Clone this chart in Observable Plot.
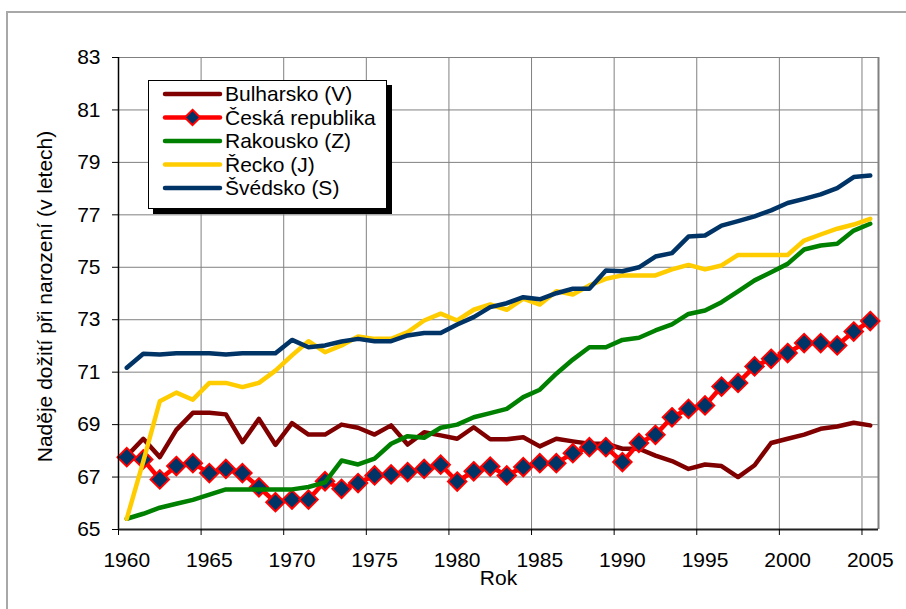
<!DOCTYPE html>
<html><head><meta charset="utf-8">
<script src="https://cdn.jsdelivr.net/npm/d3@7"></script>
<script src="https://cdn.jsdelivr.net/npm/@observablehq/plot@0.6"></script>
<style>
body{margin:0;background:#fff;font-family:"Liberation Sans",Arial,sans-serif;}
#wrap{position:relative;width:906px;height:609px;overflow:hidden;background:#fff;}
#frame{position:absolute;left:6px;top:11px;width:940px;height:640px;border:2px solid #a8a8a8;box-sizing:border-box;}
#chart{position:absolute;left:0;top:0;}
#legend{position:absolute;left:148px;top:80px;width:239px;height:129px;background:#fff;border:1px solid #000;box-shadow:5px 5px 0 #000;box-sizing:border-box;}
</style>
</head><body>
<div id="wrap"><div id="frame"></div><div id="chart"></div><div id="legend"></div></div>
<script>
const years = d3.range(1960, 2006);
const seriesNames = ["Bulharsko (V)", "Česká republika", "Rakousko (Z)", "Řecko (J)", "Švédsko (S)"];
const seriesColors = ["#800000", "#FF0000", "#008000", "#FFCC00", "#003366"];
const markerFill = "#003366";

const bulgaria = [67.8,68.46,67.76,68.8,69.45,69.45,69.39,68.33,69.22,68.23,
  69.06,68.62,68.62,69.0,68.88,68.62,68.97,68.24,68.71,68.59,
  68.46,68.9,68.44,68.44,68.52,68.17,68.46,68.36,68.27,68.27,
  68.08,68.08,67.82,67.61,67.31,67.48,67.42,67.0,67.45,68.3,
  68.46,68.62,68.84,68.93,69.07,68.97];
const czech = [67.76,67.67,66.91,67.42,67.53,67.15,67.31,67.15,66.61,66.04,
  66.14,66.14,66.84,66.55,66.77,67.06,67.1,67.19,67.31,67.47,
  66.83,67.22,67.4,67.06,67.38,67.53,67.53,67.91,68.14,68.14,
  67.57,68.3,68.61,69.28,69.6,69.73,70.45,70.59,71.22,71.51,
  71.73,72.11,72.11,72.02,72.55,72.95];
const austria = [65.41,65.6,65.83,65.98,66.13,66.33,66.53,66.53,66.53,66.53,
  66.53,66.62,66.8,67.63,67.48,67.7,68.27,68.56,68.5,68.88,
  69.0,69.28,69.44,69.6,70.05,70.33,70.94,71.48,71.95,71.95,
  72.23,72.31,72.59,72.82,73.22,73.35,73.67,74.08,74.5,74.81,
  75.13,75.68,75.83,75.9,76.4,76.66];
const greece = [65.41,67.6,69.89,70.22,69.95,70.59,70.59,70.43,70.59,71.06,
  71.64,72.18,71.76,72.02,72.36,72.27,72.27,72.53,72.97,73.23,
  72.97,73.38,73.58,73.38,73.8,73.58,74.09,73.96,74.31,74.56,
  74.69,74.69,74.69,74.92,75.09,74.92,75.07,75.47,75.47,75.47,
  75.47,76.02,76.25,76.47,76.63,76.85];
const sweden = [71.17,71.7,71.67,71.72,71.72,71.72,71.67,71.72,71.72,71.72,
  72.23,71.95,72.02,72.17,72.27,72.18,72.18,72.4,72.49,72.49,
  72.82,73.1,73.48,73.63,73.86,73.78,74.01,74.18,74.18,74.88,
  74.85,75.0,75.41,75.54,76.17,76.21,76.59,76.76,76.94,77.17,
  77.45,77.61,77.78,78.02,78.44,78.5];

const yTicks = [65,67,69,71,73,75,77,79,81,83];
const xTickLabels = [1960,1965,1970,1975,1980,1985,1990,1995,2000,2005];
const yTitle = "Naděje dožití při narození (v letech)";
const xTitle = "Rok";

const allSeries = [bulgaria, czech, austria, greece, sweden];
const toRows = (vals) => years.map((yr, i) => ({year: yr, value: vals[i]}));
const boundaries = xTickLabels.map(v => v - 0.5);

const lineMarks = allSeries.map((vals, k) =>
  Plot.line(toRows(vals), {x: "year", y: "value", stroke: seriesColors[k], strokeWidth: 4.5,
    strokeLinejoin: "round", strokeLinecap: "round"}));

const chart = Plot.plot({
  width: 906, height: 609,
  marginLeft: 118, marginRight: 28, marginTop: 57, marginBottom: 80,
  x: {domain: [1959.5, 2005.5]},
  y: {domain: [65, 83]},
  style: {fontFamily: "'Liberation Sans', Arial, sans-serif", fontSize: "21px", background: "transparent", color: "#000"},
  marks: [
    Plot.ruleX(boundaries.slice(1), {stroke: "#808080", strokeWidth: 1}),
    Plot.ruleY(yTicks.slice(1), {stroke: "#808080", strokeWidth: 1}),
    Plot.ruleY([67], {stroke: "#c0c0c0", strokeWidth: 2}),
    Plot.ruleX([2005.5], {stroke: "#808080", strokeWidth: 2}),
    lineMarks[0],
    lineMarks[1],
    Plot.dot(toRows(czech), {x: "year", y: "value", symbol: "diamond2", r: 8.3, fill: markerFill, stroke: "#FF0000", strokeWidth: 2}),
    lineMarks[2],
    lineMarks[3],
    lineMarks[4],
    Plot.ruleX([1959.5], {stroke: "#000", strokeWidth: 1.5}),
    Plot.ruleY([65], {stroke: "#222", strokeWidth: 2}),
    Plot.axisY({ticks: yTicks, tickSize: 6, tickPadding: 12, tickFormat: d => String(d), label: null, stroke: "#000"}),
    Plot.axisX({ticks: boundaries, tickSize: 6, tickFormat: () => "", label: null, stroke: "#000"}),
    Plot.axisX({ticks: xTickLabels, tickSize: 0, tickPadding: 23, tickFormat: d => String(d), label: null}),
    Plot.text([yTitle], {frameAnchor: "left", textAnchor: "middle", dx: -73, dy: 3, rotate: -90, fontSize: 21, fill: "#000"}),
    Plot.text([xTitle], {frameAnchor: "bottom", textAnchor: "middle", dy: 55, fontSize: 21, fill: "#000"})
  ]
});
document.getElementById("chart").appendChild(chart);

// legend
const rowH = 23.5;
const leg = d3.select("#legend").append("svg").attr("width", 237).attr("height", 127)
  .style("font-family", "'Liberation Sans', Arial, sans-serif");
seriesNames.forEach((name, k) => {
  const cy = 13 + k * rowH;
  leg.append("line").attr("x1", 16).attr("x2", 71).attr("y1", cy).attr("y2", cy)
    .attr("stroke", seriesColors[k]).attr("stroke-width", 4.5).attr("stroke-linecap", "round");
  if (k === 1) {
    leg.append("path").attr("d", d3.symbol(d3.symbolDiamond2, 150)())
      .attr("transform", `translate(43.5,${cy})`).attr("fill", markerFill)
      .attr("stroke", "#FF0000").attr("stroke-width", 2);
  }
  leg.append("text").attr("x", 76).attr("y", cy).attr("dy", "0.35em")
    .attr("font-size", 21).attr("fill", "#000").text(name);
});
</script>
</body></html>
